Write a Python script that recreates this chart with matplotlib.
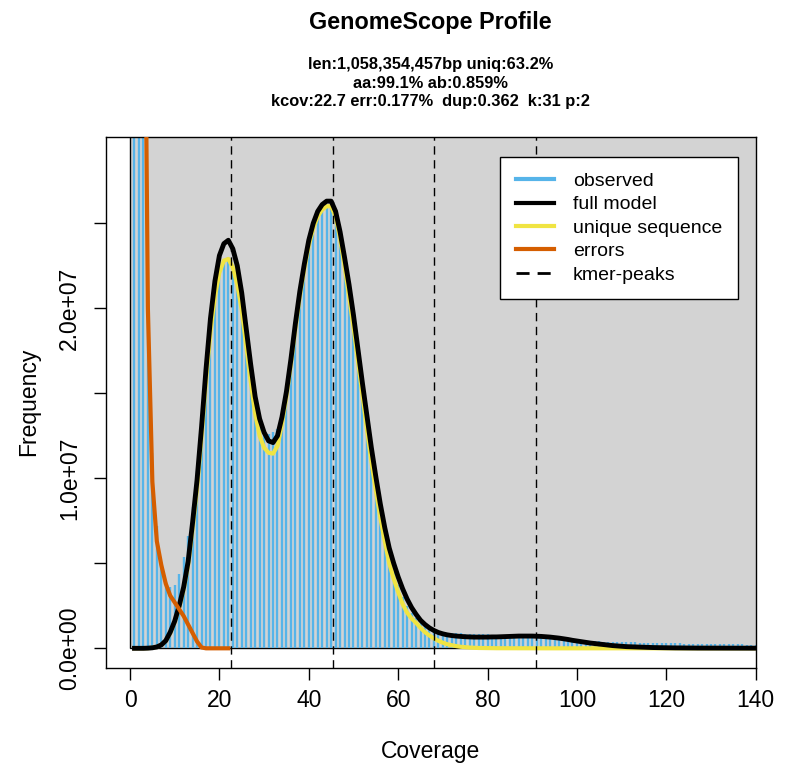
import numpy as np
import matplotlib
matplotlib.use("Agg")
import matplotlib.pyplot as plt
from matplotlib.lines import Line2D
from matplotlib.patches import Rectangle

plt.rcParams['font.family'] = ['Liberation Sans', 'DejaVu Sans']

# k-mer coverage bins 1..140
coverage = np.arange(1, 141)

# observed k-mer frequency, in millions
observed = [
    200, 90, 45, 21, 11.5, 7.2, 5.0, 3.9, 3.6, 3.7,
    4.4, 5.4, 6.6, 8.3, 10.4, 13.1, 16.2, 19.0, 21.0, 22.3,
    22.9, 23.0, 22.5, 21.5, 20.0, 18.0, 16.0, 14.2, 13.0, 12.7,
    12.6, 12.7, 12.9, 13.7, 15.0, 16.8, 19.0, 20.8, 22.4, 23.9,
    25.0, 25.6, 25.9, 26.1, 26.1, 25.4, 24.1, 22.6, 20.9, 19.1,
    17.2, 15.3, 13.3, 11.4, 9.7, 8.1, 6.7, 5.5, 4.5, 3.7,
    3.0, 2.5, 2.1, 1.8, 1.5, 1.3, 1.15, 1.05, 0.98, 0.94,
    0.92, 0.90, 0.89, 0.88, 0.87, 0.86, 0.85, 0.84, 0.83, 0.82,
    0.81, 0.80, 0.79, 0.78, 0.77, 0.76, 0.75, 0.74, 0.72, 0.70,
    0.68, 0.66, 0.63, 0.61, 0.58, 0.56, 0.53, 0.51, 0.49, 0.47,
    0.45, 0.44, 0.43, 0.42, 0.41, 0.40, 0.39, 0.38, 0.38, 0.37,
    0.36, 0.35, 0.35, 0.34, 0.33, 0.33, 0.32, 0.31, 0.31, 0.30,
    0.30, 0.29, 0.29, 0.28, 0.28, 0.27, 0.27, 0.26, 0.26, 0.25,
    0.25, 0.25, 0.24, 0.24, 0.23, 0.23, 0.23, 0.22, 0.22, 0.22,
]

# full model fit, in millions
full_model = [
    0.0, 0.0, 0.0, 0.01, 0.03, 0.08, 0.2, 0.45, 0.95, 1.6,
    2.5, 3.6, 5.1, 7.4, 9.9, 13.0, 16.4, 19.4, 21.6, 23.1,
    23.8, 24.0, 23.5, 22.5, 20.9, 18.8, 16.7, 14.8, 13.5, 12.7,
    12.2, 12.1, 12.5, 13.6, 15.1, 17.0, 19.1, 21.0, 22.6, 24.0,
    25.0, 25.7, 26.1, 26.3, 26.3, 25.7, 24.5, 23.0, 21.4, 19.6,
    17.6, 15.6, 13.7, 11.8, 10.1, 8.5, 7.1, 5.9, 5.0, 4.2,
    3.5, 2.9, 2.4, 2.0, 1.65, 1.4, 1.2, 1.05, 0.93, 0.85,
    0.79, 0.75, 0.72, 0.70, 0.68, 0.67, 0.66, 0.66, 0.66, 0.66,
    0.67, 0.67, 0.68, 0.69, 0.70, 0.71, 0.72, 0.72, 0.72, 0.72,
    0.71, 0.70, 0.68, 0.66, 0.63, 0.60, 0.56, 0.52, 0.47, 0.43,
    0.39, 0.35, 0.31, 0.28, 0.25, 0.22, 0.19, 0.16, 0.14, 0.12,
    0.10, 0.09, 0.08, 0.07, 0.06, 0.05, 0.045, 0.04, 0.035, 0.03,
    0.028, 0.025, 0.022, 0.02, 0.018, 0.016, 0.015, 0.014, 0.013, 0.012,
    0.011, 0.011, 0.010, 0.010, 0.010, 0.009, 0.009, 0.009, 0.008, 0.008,
]

# unique sequence component, in millions
unique_seq = [
    0.0, 0.0, 0.0, 0.01, 0.03, 0.08, 0.2, 0.43, 0.9, 1.55,
    2.4, 3.45, 4.9, 7.0, 9.4, 12.4, 15.7, 18.6, 20.7, 22.1,
    22.8, 22.9, 22.4, 21.4, 19.9, 17.8, 15.7, 13.8, 12.5, 11.8,
    11.5, 11.45, 11.9, 13.2, 14.8, 16.7, 18.8, 20.7, 22.3, 23.7,
    24.7, 25.4, 25.8, 26.0, 26.0, 25.4, 24.1, 22.5, 20.7, 18.9,
    16.9, 14.9, 12.9, 11.0, 9.3, 7.7, 6.3, 5.0, 4.1, 3.3,
    2.6, 2.1, 1.75, 1.5, 1.2, 0.95, 0.75, 0.58, 0.44, 0.33,
    0.24, 0.18, 0.13, 0.09, 0.065, 0.045, 0.03, 0.02, 0.015, 0.01,
    0.008, 0.006, 0.005, 0.004, 0.003, 0.002, 0.002, 0.001, 0.001, 0.001,
    0, 0, 0, 0, 0, 0, 0, 0, 0, 0,
    0, 0, 0, 0, 0, 0, 0, 0, 0, 0,
    0, 0, 0, 0, 0, 0, 0, 0, 0, 0,
    0, 0, 0, 0, 0, 0, 0, 0, 0, 0,
    0, 0, 0, 0, 0, 0, 0, 0, 0, 0,
]

# error k-mers, in millions (coverage 1..22)
errors = [
    250, 100, 50, 20, 9.8, 6.3, 4.9, 3.8, 3.1, 2.7,
    2.3, 1.9, 1.4, 0.9, 0.4, 0.05, 0, 0, 0, 0,
    0, 0,
]

kmer_peaks = [22.7, 45.4, 68.1, 90.8]

title = "GenomeScope Profile"
subtitle = ["len:1,058,354,457bp uniq:63.2%",
            "aa:99.1% ab:0.859%",
            "kcov:22.7 err:0.177%  dup:0.362  k:31 p:2"]

c_obs = "#56B4E9"
c_unique = "#F0E442"
c_err = "#D55E00"

W, H = 786, 777
fig = plt.figure(figsize=(W / 100, H / 100), dpi=100)
ax = fig.add_axes([105.7 / W, 1 - 667.7 / H, 650 / W, 531 / H])

ax.set_xlim(-5.44, 140)
ax.set_ylim(-1.14e6, 3.009e7)

sc = 1e6
ax.add_patch(Rectangle((0, 0), 200, 4e7, facecolor="#D3D3D3", edgecolor="black",
                       lw=1.0, zorder=1))
ax.vlines(coverage, 0, np.array(observed) * sc, color=c_obs, lw=1.7, zorder=2)
ax.plot(coverage, np.array(unique_seq) * sc, color=c_unique, lw=3.0, zorder=3)
ax.plot(coverage, np.array(full_model) * sc, color="black", lw=3.5, zorder=4)
ax.plot(coverage[:len(errors)], np.array(errors) * sc, color=c_err, lw=3.0, zorder=5)
for p in kmer_peaks:
    ax.axvline(p, color="black", lw=1.0, ls=(0, (6, 4)), zorder=6)

ax.set_xticks(range(0, 141, 20))
ax.set_yticks([0, 5e6, 1e7, 1.5e7, 2e7, 2.5e7])
ax.set_yticklabels(["0.0e+00", "", "1.0e+07", "", "2.0e+07", ""],
                   rotation=90, va="center")
ax.tick_params(axis="both", direction="out", length=8.6, width=1.0,
               labelsize=16.5, color="black")
ax.tick_params(axis="x", pad=7)
ax.tick_params(axis="y", pad=9)
for s in ax.spines.values():
    s.set_linewidth(1.0)

ax.set_xlabel("Coverage", fontsize=16.5, labelpad=20)
ax.set_ylabel("Frequency", fontsize=16.5, labelpad=13)

fig.text(430.7 / W, 1 - 23 / H, title, ha="center", va="center",
         fontsize=16.8, fontweight="bold")
for i, line in enumerate(subtitle):
    fig.text(430.7 / W, 1 - (65 + 18.3 * i) / H, line, ha="center", va="center",
             fontsize=11.8, fontweight="bold")

handles = [
    Line2D([], [], color=c_obs, lw=3.0),
    Line2D([], [], color="black", lw=3.0),
    Line2D([], [], color=c_unique, lw=3.0),
    Line2D([], [], color=c_err, lw=3.0),
    Line2D([], [], color="black", lw=2.0, dashes=(4.7, 2.9)),
]
labels = ["observed", "full model", "unique sequence", "errors", "kmer-peaks"]
leg = ax.legend(handles, labels, loc="upper right",
                bbox_to_anchor=(737.7 / W, 1 - 156.7 / H),
                bbox_transform=fig.transFigure, fontsize=14.0,
                frameon=True, fancybox=False, framealpha=1, edgecolor="black",
                borderaxespad=0, borderpad=0.8, labelspacing=0.3,
                handlelength=2.0, handletextpad=0.95)
leg.get_frame().set_linewidth(1.0)
leg.set_zorder(10)

fig.savefig("out.png", dpi=100)
